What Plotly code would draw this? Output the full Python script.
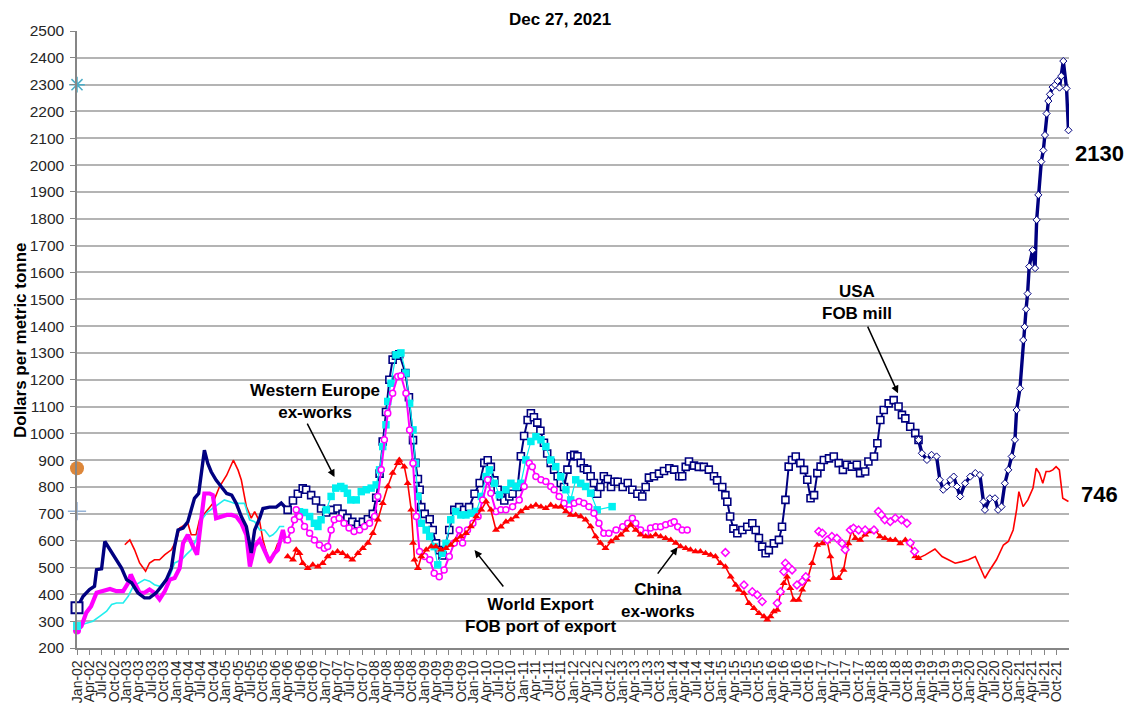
import plotly.graph_objects as go

# ---------------- DATA ----------------
# USA FOB mill
usa_early_dates = ["2002-01-01", "2002-02-15", "2002-04-03", "2002-05-10", "2002-05-25", "2002-07-01", "2002-07-25",
                   "2002-09-01", "2002-10-07", "2002-11-25", "2003-01-01", "2003-02-07", "2003-03-25", "2003-05-13",
                   "2003-06-19", "2003-08-07", "2003-09-15", "2003-10-21", "2003-11-27", "2003-12-21", "2004-01-15",
                   "2004-02-21", "2004-03-27", "2004-04-21", "2004-05-15", "2004-06-15", "2004-07-03", "2004-07-27",
                   "2004-08-21", "2004-09-15", "2004-10-21", "2004-11-27", "2005-01-07", "2005-02-13", "2005-03-19",
                   "2005-04-25", "2005-06-01", "2005-07-07", "2005-08-01", "2005-09-07", "2005-10-01", "2005-11-19",
                   "2006-01-07", "2006-02-13", "2006-03-15", "2006-04-01"]
usa_early_vals = [350, 393, 418, 430, 492, 495, 597, 566, 535, 498, 455, 443, 406, 387, 387, 406, 430, 455, 498, 579,
                  640, 647, 671, 715, 758, 776, 850, 937, 888, 857, 826, 801, 776, 770, 739, 690, 653, 554, 640, 684,
                  720, 725, 725, 740, 725, 715]

usa_mid_dates = ["2006-04-01", "2006-05-10", "2006-06-15", "2006-07-21", "2006-08-15", "2006-09-21", "2006-10-27",
                 "2006-12-03", "2007-01-10", "2007-02-27", "2007-04-03", "2007-05-10", "2007-06-15", "2007-07-21",
                 "2007-09-01", "2007-10-07", "2007-11-13", "2007-12-19", "2008-01-13", "2008-02-07", "2008-03-01",
                 "2008-03-25", "2008-04-19", "2008-05-13", "2008-06-07", "2008-07-01", "2008-08-15", "2008-09-10",
                 "2008-10-10", "2008-10-28", "2008-11-15", "2008-11-28", "2008-12-10", "2009-01-04", "2009-02-10",
                 "2009-03-04", "2009-03-28", "2009-04-21", "2009-05-15", "2009-07-04", "2009-08-10", "2009-09-15",
                 "2009-10-21", "2009-11-27", "2010-01-06", "2010-02-13", "2010-03-19", "2010-04-13", "2010-05-06",
                 "2010-06-01", "2010-06-25", "2010-07-19", "2010-08-13", "2010-09-19", "2010-10-13", "2010-11-19",
                 "2010-12-13", "2011-01-06", "2011-02-01", "2011-02-25", "2011-03-19", "2011-04-13", "2011-05-06",
                 "2011-06-01", "2011-06-25", "2011-07-21", "2011-08-15", "2011-09-10", "2011-10-03", "2011-10-27",
                 "2011-11-21", "2011-12-15", "2012-01-10", "2012-02-03", "2012-02-27", "2012-03-21", "2012-04-15",
                 "2012-05-10", "2012-06-03", "2012-06-27", "2012-07-21", "2012-08-15", "2012-09-13", "2012-10-07",
                 "2012-11-01", "2012-11-25", "2013-01-01", "2013-02-07", "2013-03-13", "2013-04-19", "2013-05-25",
                 "2013-06-19", "2013-07-13", "2013-08-19", "2013-09-25", "2013-11-01", "2013-12-10", "2014-01-15",
                 "2014-02-21", "2014-03-15", "2014-04-10", "2014-05-04", "2014-06-10", "2014-07-15", "2014-08-21",
                 "2014-09-27", "2014-11-04", "2014-11-27", "2015-01-04", "2015-01-27", "2015-02-10", "2015-03-03",
                 "2015-03-27", "2015-04-25", "2015-06-01", "2015-07-07", "2015-08-13", "2015-09-07", "2015-10-01",
                 "2015-10-25", "2015-11-19", "2015-12-13", "2016-01-19", "2016-02-25", "2016-03-19", "2016-04-13",
                 "2016-05-07", "2016-06-01", "2016-06-28", "2016-08-01", "2016-08-28", "2016-09-21", "2016-10-15",
                 "2016-11-10", "2016-12-04", "2016-12-28", "2017-01-21", "2017-02-28", "2017-04-04", "2017-05-10",
                 "2017-06-10", "2017-07-10", "2017-08-15", "2017-09-21", "2017-10-15", "2017-11-21", "2017-12-15",
                 "2018-01-25", "2018-02-19", "2018-03-13", "2018-04-07", "2018-05-13", "2018-06-19", "2018-07-25",
                 "2018-08-19", "2018-09-13", "2018-10-19", "2018-11-25", "2018-12-19"]
usa_mid_vals = [715, 750, 775, 795, 790, 770, 750, 720, 705, 715, 720, 700, 685, 670, 660, 670, 680, 700, 760, 850,
                970, 1080, 1200, 1275, 1290, 1295, 1225, 1135, 975, 890, 830, 790, 725, 700, 680, 640, 590, 565, 545,
                640, 715, 725, 715, 725, 775, 815, 890, 900, 875, 825, 790, 765, 750, 765, 775, 800, 915, 990, 1050,
                1075, 1060, 1040, 1010, 965, 925, 890, 865, 840, 815, 800, 865, 915, 920, 915, 890, 870, 865, 840, 815,
                775, 800, 840, 830, 800, 820, 820, 800, 815, 790, 775, 765, 800, 835, 840, 850, 860, 870, 865, 840, 840,
                875, 895, 880, 875, 875, 865, 840, 825, 800, 770, 745, 690, 645, 628, 640, 652, 665, 640, 610, 578, 553,
                565, 590, 603, 652, 752, 876, 901, 914, 889, 864, 827, 758, 770, 852, 876, 901, 907, 914, 889, 864, 883,
                876, 883, 852, 858, 895, 914, 963, 1050, 1087, 1112, 1124, 1100, 1069, 1056, 1025, 1001, 976]

usa_late_dates = ["2018-12-19", "2019-01-13", "2019-02-19", "2019-03-25", "2019-05-01", "2019-05-25", "2019-06-19",
                  "2019-07-15", "2019-08-10", "2019-09-04", "2019-09-28", "2019-10-21", "2019-11-27", "2020-01-04",
                  "2020-02-10", "2020-03-15", "2020-04-10", "2020-04-21", "2020-05-27", "2020-07-04", "2020-07-27",
                  "2020-08-21", "2020-09-15", "2020-10-10", "2020-11-04", "2020-11-28", "2020-12-10", "2021-01-04",
                  "2021-01-28", "2021-02-07", "2021-02-18", "2021-03-01", "2021-03-13", "2021-04-07", "2021-04-25",
                  "2021-05-07", "2021-05-19", "2021-06-10", "2021-06-25", "2021-07-07", "2021-07-19", "2021-08-01",
                  "2021-08-13", "2021-09-01", "2021-09-19", "2021-10-07", "2021-10-22", "2021-11-04", "2021-11-19",
                  "2021-12-13", "2021-12-27"]
usa_late_vals = [976, 926, 901, 920, 914, 827, 790, 802, 827, 839, 802, 765, 814, 839, 852, 845, 746, 715, 758, 758,
                 715, 727, 814, 864, 914, 976, 1087, 1168, 1348, 1397, 1463, 1521, 1622, 1683, 1616, 1796, 1889, 2013,
                 2055, 2112, 2192, 2239, 2264, 2291, 2299, 2314, 2289, 2332, 2388, 2286, 2130]

# Western Europe ex-works
we_early_dates = ["2002-01-01", "2002-03-10", "2002-04-28", "2002-06-19", "2002-08-07", "2002-09-13", "2002-10-19",
                  "2002-12-07", "2003-01-13", "2003-02-19", "2003-04-07", "2003-05-13", "2003-06-19", "2003-07-25",
                  "2003-09-01", "2003-10-10", "2003-11-15", "2003-12-21", "2004-02-10", "2004-03-15", "2004-04-21",
                  "2004-05-27", "2004-06-21", "2004-07-15", "2004-08-21", "2004-09-27", "2004-11-15", "2004-12-21",
                  "2005-02-01", "2005-03-07", "2005-04-13", "2005-05-19", "2005-06-25", "2005-08-01", "2005-09-07",
                  "2005-10-13", "2005-11-19", "2005-12-13", "2006-01-07", "2006-02-01", "2006-03-07"]
we_early_vals = [282, 294, 300, 319, 337, 362, 368, 368, 393, 430, 443, 455, 449, 436, 430, 449, 467, 517, 529, 548,
                 566, 603, 653, 684, 708, 721, 739, 752, 745, 739, 739, 739, 678, 671, 640, 640, 616, 622, 634, 653, 653]

we_late_dates = ["2006-06-27", "2006-08-03", "2006-09-10", "2006-10-15", "2006-11-10", "2006-12-03", "2007-01-10",
                 "2007-02-15", "2007-03-21", "2007-04-27", "2007-05-21", "2007-06-15", "2007-07-10", "2007-08-19",
                 "2007-09-25", "2007-11-01", "2007-12-07", "2008-01-13", "2008-02-07", "2008-03-01", "2008-03-25",
                 "2008-04-07", "2008-05-01", "2008-06-07", "2008-07-13", "2008-08-19", "2008-09-15", "2008-10-10",
                 "2008-10-28", "2008-11-15", "2008-12-10", "2009-01-15", "2009-02-10", "2009-03-15", "2009-04-10",
                 "2009-05-15", "2009-06-10", "2009-07-15", "2009-08-21", "2009-09-27", "2009-11-04", "2009-12-10",
                 "2010-01-19", "2010-02-25", "2010-04-01", "2010-04-25", "2010-06-01", "2010-07-07", "2010-08-25",
                 "2010-10-01", "2010-11-07", "2010-12-13", "2011-01-19", "2011-02-25", "2011-04-03", "2011-05-10",
                 "2011-06-15", "2011-07-21", "2011-08-27", "2011-10-03", "2011-11-10", "2011-12-15", "2012-01-21",
                 "2012-02-27", "2012-04-03", "2012-05-10", "2012-06-27", "2012-10-15"]
we_late_vals = [708, 705, 690, 665, 653, 678, 715, 765, 796, 802, 795, 777, 752, 752, 783, 790, 796, 808, 864, 951,
                1032, 1119, 1187, 1293, 1300, 1225, 1112, 1013, 889, 765, 665, 640, 616, 578, 510, 553, 590, 678, 709,
                696, 696, 702, 709, 765, 839, 864, 814, 771, 790, 814, 802, 814, 901, 970, 988, 976, 951, 901, 876, 839,
                790, 752, 827, 814, 802, 777, 715, 727]

# World Export FOB port of export
wx_early_dates = ["2002-01-01", "2002-02-03", "2002-03-10", "2002-04-15", "2002-05-25", "2002-07-13", "2002-09-01",
                  "2002-10-19", "2002-12-07", "2003-01-13", "2003-02-01", "2003-03-01", "2003-04-07", "2003-05-13",
                  "2003-06-19", "2003-07-25", "2003-09-01", "2003-10-10", "2003-11-15", "2003-12-21", "2004-01-27",
                  "2004-02-21", "2004-03-27", "2004-05-04", "2004-06-03", "2004-07-03", "2004-07-27", "2004-09-03",
                  "2004-09-27", "2004-10-21", "2004-11-27", "2005-01-07", "2005-02-13", "2005-03-19", "2005-04-25",
                  "2005-06-01", "2005-06-27", "2005-08-01", "2005-09-07", "2005-10-13", "2005-11-19", "2005-12-25",
                  "2006-01-19", "2006-02-25", "2006-03-19"]
wx_early_vals = [265, 282, 331, 356, 406, 412, 420, 412, 412, 443, 474, 443, 406, 406, 418, 406, 381, 412, 455, 461,
                 498, 591, 622, 579, 548, 678, 776, 776, 770, 684, 690, 696, 696, 690, 665, 622, 504, 579, 603, 566,
                 522, 553, 566, 640, 591]

wx_mid_dates = ["2006-04-01", "2006-04-27", "2006-05-21", "2006-06-03", "2006-06-27", "2006-08-03", "2006-09-10",
                "2006-10-15", "2006-11-21", "2006-12-27", "2007-01-21", "2007-02-15", "2007-03-10", "2007-04-15",
                "2007-05-21", "2007-06-27", "2007-08-03", "2007-09-13", "2007-10-19", "2007-11-25", "2008-01-01",
                "2008-01-25", "2008-02-19", "2008-03-13", "2008-04-07", "2008-05-13", "2008-06-19", "2008-07-13",
                "2008-08-19", "2008-09-15", "2008-10-10", "2008-11-03", "2008-11-27", "2009-01-04", "2009-02-10",
                "2009-03-15", "2009-04-21", "2009-05-27", "2009-07-04", "2009-08-10", "2009-09-15", "2009-10-10",
                "2009-11-15", "2009-12-25", "2010-02-01", "2010-03-07", "2010-04-13", "2010-05-06", "2010-06-13",
                "2010-07-19", "2010-08-25", "2010-10-13", "2010-12-01", "2011-01-06", "2011-02-13", "2011-03-07",
                "2011-04-03", "2011-05-10", "2011-06-15", "2011-07-21", "2011-08-15", "2011-09-21", "2011-10-27",
                "2011-12-03", "2012-01-10", "2012-02-15", "2012-03-21", "2012-04-27", "2012-06-03", "2012-07-10",
                "2012-08-15", "2012-09-21", "2012-11-13", "2013-01-01", "2013-02-07", "2013-03-13", "2013-04-07",
                "2013-05-13", "2013-06-19", "2013-07-25", "2013-09-01", "2013-10-07", "2013-11-13", "2013-12-21",
                "2014-01-15", "2014-02-10", "2014-03-15", "2014-04-21"]
wx_mid_vals = [603, 640, 678, 715, 690, 653, 628, 603, 584, 572, 578, 640, 678, 684, 665, 647, 634, 640, 653, 665,
               690, 765, 864, 976, 1075, 1150, 1212, 1215, 1150, 1013, 889, 690, 560, 541, 529, 479, 466, 491, 541,
               591, 640, 591, 640, 665, 690, 752, 827, 777, 709, 715, 715, 727, 752, 802, 889, 876, 839, 827, 821,
               802, 790, 765, 740, 715, 740, 746, 740, 727, 702, 665, 628, 628, 640, 652, 665, 684, 665, 640, 628, 647,
               652, 652, 659, 665, 671, 652, 640, 640]

wx_late_dates = ["2015-01-27", "2015-06-13", "2015-08-13", "2015-09-19", "2015-10-25", "2016-02-13", "2016-03-07",
                 "2016-04-01", "2016-04-13", "2016-05-07", "2016-06-01", "2016-07-07", "2016-08-15", "2016-09-10",
                 "2016-12-15", "2017-01-10", "2017-02-15", "2017-03-21", "2017-04-27", "2017-06-04", "2017-06-27",
                 "2017-08-04", "2017-08-27", "2017-10-04", "2017-11-21", "2018-01-25", "2018-02-27", "2018-03-21",
                 "2018-04-15", "2018-05-25", "2018-07-01", "2018-08-15", "2018-09-25", "2018-10-19", "2018-11-20"]
wx_late_vals = [556, 435, 410, 398, 373, 367, 410, 485, 516, 503, 491, 435, 448, 466, 634, 628, 603, 616, 609, 590,
                566, 640, 647, 640, 640, 640, 709, 696, 678, 671, 684, 678, 665, 592, 560]

# China ex-works
cn_early_dates = ["2002-12-19", "2003-01-25", "2003-03-01", "2003-04-07", "2003-05-21", "2003-06-19", "2003-07-25",
                  "2003-09-01", "2003-10-10", "2003-11-27", "2004-01-04", "2004-01-27", "2004-03-04", "2004-03-27",
                  "2004-04-21", "2004-05-27", "2004-06-21", "2004-08-10", "2004-09-27", "2004-11-15", "2005-01-07",
                  "2005-02-25", "2005-04-01", "2005-04-25", "2005-06-01", "2005-07-07", "2005-08-01", "2005-09-07",
                  "2005-10-01", "2005-11-19", "2005-12-13", "2006-01-19"]
cn_early_vals = [585, 603, 566, 517, 486, 517, 529, 529, 548, 566, 603, 647, 659, 665, 622, 622, 678, 708, 739, 801,
                 844, 900, 863, 826, 727, 684, 708, 671, 603, 516, 541, 591]

cn_mid_dates = ["2006-04-01", "2006-05-10", "2006-06-03", "2006-06-27", "2006-07-21", "2006-08-27", "2006-10-03",
                "2006-11-10", "2006-12-15", "2007-01-21", "2007-02-27", "2007-04-03", "2007-05-10", "2007-06-15",
                "2007-07-21", "2007-09-01", "2007-10-07", "2007-11-13", "2007-12-19", "2008-01-25", "2008-03-01",
                "2008-04-07", "2008-05-13", "2008-06-19", "2008-07-01", "2008-08-07", "2008-09-01", "2008-09-27",
                "2008-10-10", "2008-10-21", "2008-11-15", "2008-12-10", "2009-01-15", "2009-02-21", "2009-03-27",
                "2009-05-03", "2009-06-10", "2009-07-15", "2009-08-21", "2009-09-27", "2009-11-04", "2009-12-10",
                "2010-01-19", "2010-02-25", "2010-04-01", "2010-05-06", "2010-06-13", "2010-07-19", "2010-08-25",
                "2010-10-01", "2010-11-07", "2010-12-13", "2011-01-19", "2011-02-25", "2011-04-03", "2011-05-10",
                "2011-06-15", "2011-07-21", "2011-08-27", "2011-10-03", "2011-11-10", "2011-12-15", "2012-01-21",
                "2012-02-27", "2012-04-03", "2012-05-10", "2012-06-15", "2012-07-21", "2012-08-27", "2012-10-07",
                "2012-11-13", "2012-12-19", "2013-01-25", "2013-03-01", "2013-04-07", "2013-05-13", "2013-06-19",
                "2013-07-25", "2013-09-01", "2013-10-07", "2013-11-13", "2013-12-21", "2014-01-27", "2014-03-03",
                "2014-04-10", "2014-05-15", "2014-06-21", "2014-07-27", "2014-09-03", "2014-10-10", "2014-11-15",
                "2014-12-21", "2015-01-27", "2015-03-07", "2015-04-13", "2015-05-07", "2015-06-13", "2015-07-19",
                "2015-08-25", "2015-10-01", "2015-11-07", "2015-12-01", "2015-12-25", "2016-01-19", "2016-02-13",
                "2016-03-07", "2016-04-01", "2016-04-25", "2016-05-19", "2016-06-13", "2016-07-19", "2016-08-15",
                "2016-09-21", "2016-10-27", "2016-12-03", "2017-01-10", "2017-02-15", "2017-03-10", "2017-04-03",
                "2017-05-10", "2017-06-15", "2017-07-21", "2017-08-15", "2017-09-10", "2017-10-15", "2017-11-21",
                "2017-12-27", "2018-02-03", "2018-03-10", "2018-04-15", "2018-05-25", "2018-07-01", "2018-08-07",
                "2018-09-13", "2018-10-19", "2018-11-25", "2018-12-19"]
cn_mid_vals = [541, 529, 566, 553, 516, 497, 510, 503, 516, 541, 553, 560, 553, 541, 529, 553, 572, 591, 628, 678,
               740, 802, 852, 889, 901, 876, 814, 715, 591, 529, 497, 541, 566, 578, 578, 566, 572, 584, 603, 616, 628,
               653, 690, 715, 746, 715, 640, 652, 671, 678, 690, 709, 721, 727, 733, 727, 721, 733, 727, 727, 709, 696,
               696, 690, 678, 653, 616, 591, 572, 597, 609, 622, 640, 659, 640, 622, 616, 616, 622, 616, 609, 603, 591,
               578, 572, 566, 560, 560, 553, 547, 541, 516, 503, 466, 435, 417, 404, 367, 348, 330, 317, 305, 317, 336,
               342, 404, 441, 466, 423, 379, 379, 417, 454, 516, 584, 590, 597, 541, 460, 460, 491, 590, 640, 609, 603,
               622, 634, 640, 616, 609, 603, 603, 590, 603, 590, 541, 535]

cn_late_dates = ["2018-12-19", "2019-02-07", "2019-04-19", "2019-06-10", "2019-07-27", "2019-09-15", "2019-11-04",
                 "2019-12-21", "2020-02-10", "2020-03-15", "2020-04-21", "2020-05-27", "2020-07-15", "2020-09-04",
                 "2020-10-10", "2020-11-15", "2020-12-10", "2020-12-27", "2021-01-27", "2021-03-03", "2021-04-10",
                 "2021-05-03", "2021-05-27", "2021-06-21", "2021-07-15", "2021-08-10", "2021-09-03", "2021-09-27",
                 "2021-10-21", "2021-11-15", "2021-12-27"]
cn_late_vals = [535, 547, 569, 541, 529, 516, 522, 529, 541, 503, 460, 491, 529, 584, 597, 640, 715, 783, 727, 752,
                796, 870, 852, 814, 858, 858, 864, 876, 864, 758, 746]

# single reference markers at the start of the axis
ref_dates = ["2002-01-01", "2002-01-01", "2002-01-01"]
ref_vals = [2300, 870, 710]

# axis ticks
tick_years = list(range(2002, 2022))
tick_months = ["Jan", "Apr", "Jul", "Oct"]
tick_month_nums = ["01", "04", "07", "10"]
tick_vals = [f"{y}-{m}-01" for y in tick_years for m in tick_month_nums]
tick_text = [f"{mn}-{str(y)[2:]}" for y in tick_years for mn in tick_months]

FONT = "Liberation Sans, Arial, sans-serif"
NAVY = "#000080"
MAG = "#FF00FF"
CYAN = "#00F0F0"
RED = "#FF0000"

fig = go.Figure()

# ---- early (2002-2006) thin/thick lines ----
fig.add_trace(go.Scatter(x=cn_early_dates, y=cn_early_vals, mode="lines",
                         line=dict(color=RED, width=1.6)))
fig.add_trace(go.Scatter(x=we_early_dates, y=we_early_vals, mode="lines",
                         line=dict(color="#22EEEE", width=1.6)))
fig.add_trace(go.Scatter(x=wx_early_dates, y=wx_early_vals, mode="lines",
                         line=dict(color=MAG, width=4.2)))
fig.add_trace(go.Scatter(x=usa_early_dates, y=usa_early_vals, mode="lines",
                         line=dict(color=NAVY, width=3.4)))

# ---- 2006-2018 marker series ----
fig.add_trace(go.Scatter(x=usa_mid_dates, y=usa_mid_vals, mode="lines+markers",
                         line=dict(color=NAVY, width=2),
                         marker=dict(symbol="square", size=7, color="white",
                                     line=dict(color=NAVY, width=1.6))))
fig.add_trace(go.Scatter(x=we_late_dates, y=we_late_vals, mode="lines+markers",
                         line=dict(color=CYAN, width=1.2),
                         marker=dict(symbol="square", size=7.5, color=CYAN,
                                     line=dict(color=CYAN, width=0))))
fig.add_trace(go.Scatter(x=wx_mid_dates, y=wx_mid_vals, mode="lines+markers",
                         line=dict(color=MAG, width=2),
                         marker=dict(symbol="circle", size=6, color="white",
                                     line=dict(color=MAG, width=1.5))))
fig.add_trace(go.Scatter(x=cn_mid_dates, y=cn_mid_vals, mode="lines+markers",
                         line=dict(color=RED, width=1.6),
                         marker=dict(symbol="triangle-up", size=7, color=RED,
                                     line=dict(width=0))))
fig.add_trace(go.Scatter(x=wx_late_dates, y=wx_late_vals, mode="markers",
                         marker=dict(symbol="diamond", size=6, color="white",
                                     line=dict(color=MAG, width=1.5))))

# ---- late (2019-2021) ----
fig.add_trace(go.Scatter(x=cn_late_dates, y=cn_late_vals, mode="lines",
                         line=dict(color=RED, width=1.6)))
fig.add_trace(go.Scatter(x=usa_late_dates, y=usa_late_vals, mode="lines+markers",
                         line=dict(color=NAVY, width=3.4),
                         marker=dict(symbol="diamond", size=5.5, color="white",
                                     line=dict(color=NAVY, width=1))))

# ---- starting-point markers ----
fig.add_trace(go.Scatter(x=[usa_early_dates[0]], y=[usa_early_vals[0]], mode="markers",
                         marker=dict(symbol="square", size=11, color="white",
                                     line=dict(color=NAVY, width=2))))
fig.add_trace(go.Scatter(x=[wx_early_dates[0]], y=[wx_early_vals[0]], mode="markers",
                         marker=dict(symbol="circle", size=8, color=MAG)))
fig.add_trace(go.Scatter(x=[we_early_dates[0]], y=[we_early_vals[0]], mode="markers",
                         marker=dict(symbol="square", size=8, color="#22EEEE")))
fig.add_trace(go.Scatter(x=ref_dates[:1], y=ref_vals[:1], mode="markers",
                         marker=dict(symbol="asterisk-open", size=13, color="#4BACC6",
                                     line=dict(color="#4BACC6", width=1.5))))
fig.add_trace(go.Scatter(x=ref_dates[1:2], y=ref_vals[1:2], mode="markers",
                         marker=dict(symbol="circle", size=14, color="#DD873A")))
fig.add_trace(go.Scatter(x=ref_dates[2:3], y=ref_vals[2:3], mode="markers",
                         marker=dict(symbol="cross-thin-open", size=13, color="#95B3D7",
                                     line=dict(color="#95B3D7", width=1.5))))
fig.update_traces(cliponaxis=False)

# ---------------- LAYOUT ----------------
# the page body adds an 8px offset; size the figure so the plot lands where the reference has it
OFF = 8
W, H = 1132 - OFF, 708 - OFF
PX0, PX1, PY0, PY1 = 77, 1069, 31, 648      # plot area on screen
L, T = PX0 - OFF, PY0 - OFF
R, B = W + OFF - PX1, H + OFF - PY1


def px(x, y):
    """screen pixel -> paper coordinates (for text placement only)"""
    return (x - PX0) / (PX1 - PX0), (PY1 - y) / (PY1 - PY0)


annotations = []


def label(text, x, y, size=17):
    xp, yp = px(x, y)
    annotations.append(dict(text=f"<b>{text}</b>", x=xp, y=yp, xref="paper", yref="paper",
                            showarrow=False, xanchor="center", yanchor="middle",
                            font=dict(family=FONT, size=size, color="black"), align="center"))


def arrow(xd, yd, ax, ay):
    annotations.append(dict(text="", x=xd, y=yd, xref="x", yref="y", ax=ax, ay=ay,
                            showarrow=True, arrowhead=2, arrowsize=1, arrowwidth=1.5,
                            arrowcolor="black"))


label("Dec 27, 2021", 560, 19, 17)
label("Western Europe<br>ex-works", 315, 402)
arrow("2007-03-12", 837, -28, -55)
label("USA<br>FOB mill", 857, 302)
arrow("2018-07-21", 1150, -31, -68)
label("World Export<br>FOB port of export", 540, 615)
arrow("2010-01-06", 565, 30, 38)
label("China<br>ex-works", 658, 600)
arrow("2014-02-09", 576, -21, 28)
label("2130", 1099, 153, 22)
label("746", 1099, 494, 22)

xp, yp = px(20, 340)
annotations.append(dict(text="<b>Dollars per metric tonne</b>", x=xp, y=yp, xref="paper", yref="paper",
                        showarrow=False, textangle=-90, xanchor="center", yanchor="middle",
                        font=dict(family=FONT, size=17, color="black")))

fig.update_layout(
    width=W, height=H,
    margin=dict(l=L, r=R, t=T, b=B, autoexpand=False),
    paper_bgcolor="white", plot_bgcolor="white",
    showlegend=False,
    annotations=annotations,
    font=dict(family=FONT, color="#262626"),
)
fig.update_xaxes(
    type="date", range=["2002-01-01", "2021-12-31"],
    tickmode="array", tickvals=tick_vals, ticktext=tick_text, tickangle=-90,
    tickfont=dict(family=FONT, size=14, color="#262626"),
    ticks="outside", ticklen=5, tickcolor="#868686", tickwidth=1.2,
    showgrid=False, showline=True, linecolor="#868686", linewidth=1.5,
    zeroline=False, automargin=False,
)
fig.update_yaxes(
    range=[200, 2500], tickmode="linear", tick0=200, dtick=100,
    tickfont=dict(family=FONT, size=15.5, color="#262626"),
    ticks="outside", ticklen=5, tickcolor="#868686", tickwidth=1.2,
    ticklabelstandoff=3,
    showgrid=True, gridcolor="#B4B4B4", gridwidth=1.5,
    showline=True, linecolor="#868686", linewidth=1.5, zeroline=False, automargin=False,
)

fig.write_html("out.html")
